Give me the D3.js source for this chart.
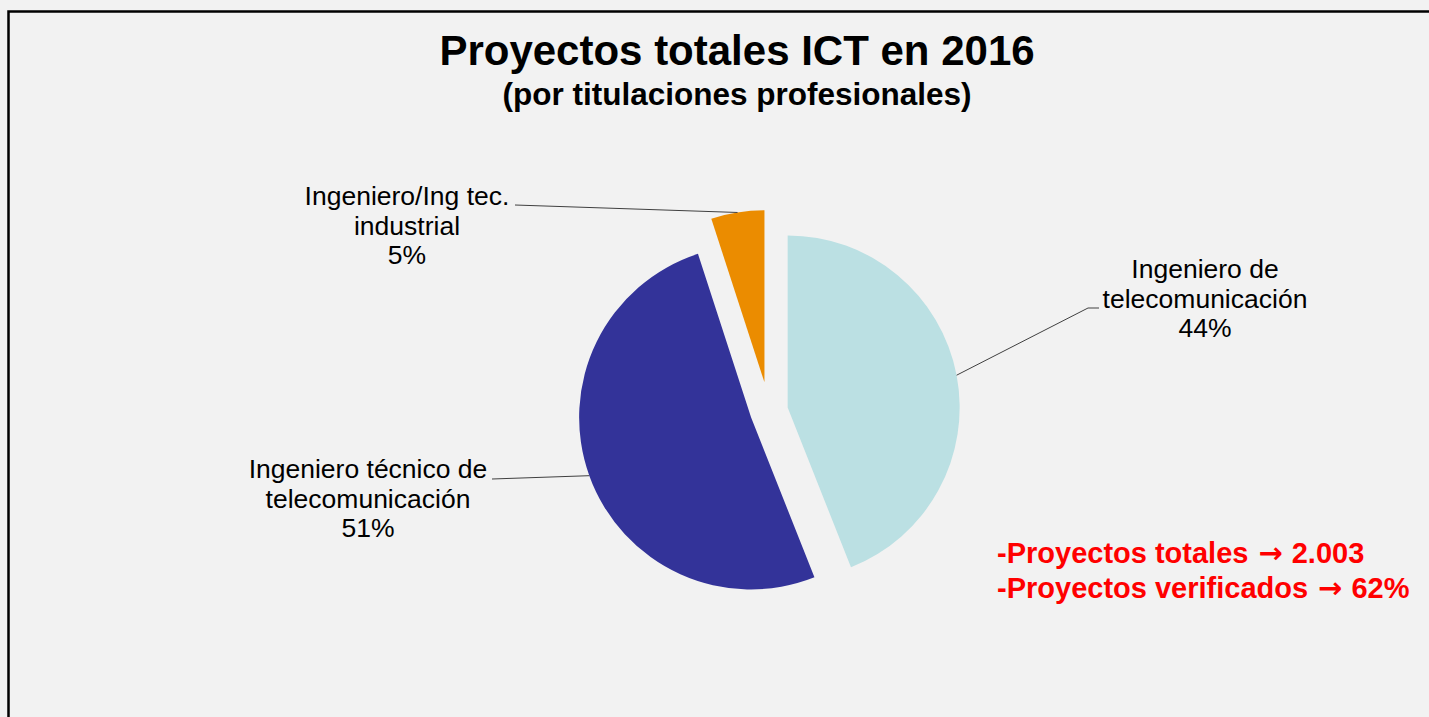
<!DOCTYPE html>
<html>
<head>
<meta charset="utf-8">
<script src="https://cdn.jsdelivr.net/npm/d3@7"></script>
<style>
  body { margin: 0; background: #f2f2f2; }
  svg { display: block; font-family: "Liberation Sans", Arial, sans-serif; }
</style>
</head>
<body>
<svg width="1429" height="717"></svg>
<script>
// data
var categories = ["Ingeniero de telecomunicación", "Ingeniero técnico de telecomunicación", "Ingeniero/Ing tec. industrial"];
var shares = [44, 51, 5];
var labelLines = [
  ["Ingeniero de", "telecomunicación", "44%"],
  ["Ingeniero técnico de", "telecomunicación", "51%"],
  ["Ingeniero/Ing tec.", "industrial", "5%"]
];
var noteNames = ["-Proyectos totales", "-Proyectos verificados"];
var noteValues = ["2.003", "62%"];

var colors = ["#bbe0e3", "#333399", "#eb8c00"];
var explode = [19, 19, 29];

// label layout (x = centre of text block, y = first baseline, leader end point)
var labelLayout = [
  { x: 1205, y: 278, lx: 1088, ly: 308, hx: 1099 },
  { x: 368,  y: 478, lx: 492,  ly: 479, hx: 492 },
  { x: 407,  y: 205, lx: 515,  ly: 205, hx: 515 }
];

var svg = d3.select("svg"),
    width = +svg.attr("width"),
    height = +svg.attr("height");

var cx = 769, cy = 411, radius = 172;

svg.append("rect")
    .attr("width", width)
    .attr("height", height)
    .attr("fill", "#f2f2f2");

// frame
svg.append("path")
    .attr("d", "M8.5,717V11.5H1429")
    .attr("fill", "none")
    .attr("stroke", "#000")
    .attr("stroke-width", 2.5);

svg.append("text")
    .attr("x", 737)
    .attr("y", 65)
    .attr("text-anchor", "middle")
    .attr("font-weight", "bold")
    .attr("font-size", 42)
    .text("Proyectos totales ICT en 2016");

svg.append("text")
    .attr("x", 737)
    .attr("y", 105)
    .attr("text-anchor", "middle")
    .attr("font-weight", "bold")
    .attr("font-size", 31.5)
    .text("(por titulaciones profesionales)");

var pie = d3.pie().sort(null).value(function(d) { return d; });
var arcs = pie(shares);

var arc = d3.arc().innerRadius(0).outerRadius(radius);

function offset(d, i) {
  var a = (d.startAngle + d.endAngle) / 2;
  return [cx + Math.sin(a) * explode[i], cy - Math.cos(a) * explode[i]];
}

svg.append("g").selectAll("path")
  .data(arcs)
  .enter().append("path")
    .attr("transform", function(d, i) { return "translate(" + offset(d, i) + ")"; })
    .attr("d", arc)
    .attr("fill", function(d, i) { return colors[i]; });

// leader lines
svg.append("g").selectAll("polyline")
  .data(arcs)
  .enter().append("polyline")
    .attr("fill", "none")
    .attr("stroke", "#404040")
    .attr("stroke-width", 1)
    .attr("points", function(d, i) {
      var o = offset(d, i), a = (d.startAngle + d.endAngle) / 2, L = labelLayout[i];
      var p0 = [o[0] + Math.sin(a) * radius, o[1] - Math.cos(a) * radius];
      return [p0, [L.lx, L.ly], [L.hx, L.ly]].map(function(p) { return p.join(","); }).join(" ");
    });

// data labels
var labels = svg.append("g").selectAll("text")
  .data(labelLines)
  .enter().append("text")
    .attr("text-anchor", "middle")
    .attr("font-size", 26.5)
    .attr("fill", "#000")
    .attr("x", function(d, i) { return labelLayout[i].x; })
    .attr("y", function(d, i) { return labelLayout[i].y; });

labels.selectAll("tspan")
  .data(function(d, i) { return d.map(function(t) { return { t: t, i: i }; }); })
  .enter().append("tspan")
    .attr("x", function(d) { return labelLayout[d.i].x; })
    .attr("dy", function(d, j) { return j ? 29.5 : 0; })
    .text(function(d) { return d.t; });

// red notes
var notes = svg.append("g").selectAll("text")
  .data(noteNames)
  .enter().append("text")
    .attr("x", 997)
    .attr("y", function(d, i) { return 563 + i * 35; })
    .attr("font-size", 29)
    .attr("font-weight", "bold")
    .attr("fill", "#ff0000");

notes.append("tspan").text(function(d) { return d; });
notes.append("tspan")
    .attr("dx", 10)
    .attr("font-family", "DejaVu Sans")
    .text("\u2192");
notes.append("tspan")
    .attr("dx", 9)
    .text(function(d, i) { return noteValues[i]; });
</script>
</body>
</html>
